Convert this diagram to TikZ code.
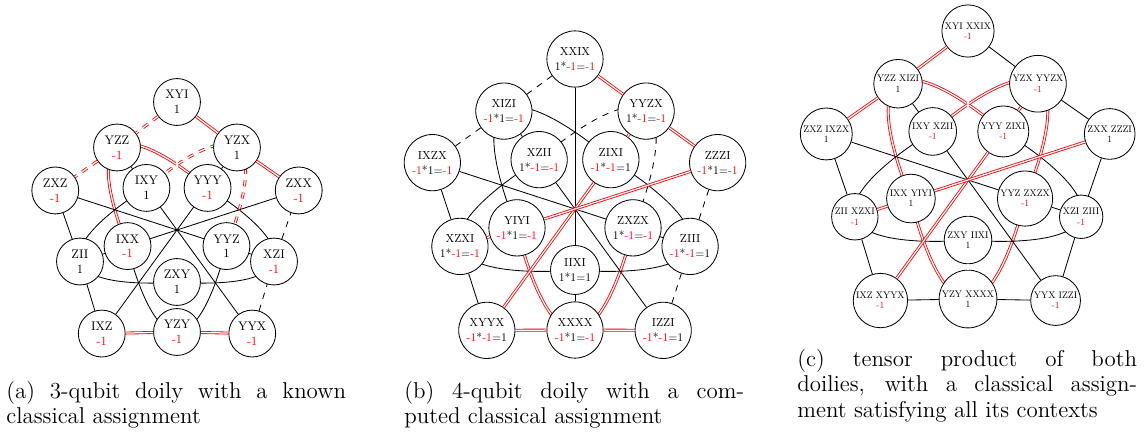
\documentclass[tikz,border=0pt]{standalone}
\usepackage{fontspec}
\usepackage{tikz}
\usetikzlibrary{arrows.meta, shapes, positioning, backgrounds}
\usepackage{xcolor}
\newfontfamily\lmten{lmroman10-regular.otf}
\newcommand{\mone}{\textcolor{red}{-1}}

\begin{document}
\begin{tikzpicture}[
                x=0.48pt, y=0.48pt,
                line join=bevel,
                anode/.style={shape=circle, fill=white, draw=black, minimum size=22.5pt, inner sep=1pt, align=center, font=\lmten\fontsize{6}{7}\selectfont},
                bnode/.style={shape=circle, fill=white, draw=black, minimum size=27pt, inner sep=1pt, align=center, font=\lmten\fontsize{5.6}{7.2}\selectfont},
                cnode/.style={shape=circle, fill=white, draw=black, inner sep=0.6pt, align=center, font=\lmten\fontsize{4.6}{4.9}\selectfont},
                redline/.style={draw=red, double=white, double distance=0.6pt, line width=0.4pt},
                reddash/.style={redline, dashed},
                oval/.style={smooth, tension=1.1},
                subcaption/.style={anchor=base west, text width=163pt, align=justify, inner sep=0pt, font=\fontsize{11}{12.3}\selectfont}
                ]
                \useasboundingbox (0,0) rectangle (1147,435);

                %% 3-qubit doily
                \begin{scope}[shift={(177,205)}]
                \node[anode] (aXYI) at (90:128) {XYI\\1};
                \node[anode] (aYZZ) at (126:102) {YZZ\\\mone};
                \node[anode] (aZXZ) at (162:128) {ZXZ\\\mone};
                \node[anode] (aZII) at (198:102) {ZII\\1};
                \node[anode] (aIXZ) at (234:128) {IXZ\\\mone};
                \node[anode] (aYZY) at (270:102) {YZY\\\mone};
                \node[anode] (aYYX) at (306:128) {YYX\\\mone};
                \node[anode] (aXZI) at (342:102) {XZI\\\mone};
                \node[anode] (aZXX) at (18:128) {ZXX\\\mone};
                \node[anode] (aYZX) at (54:102) {YZX\\1};
                \node[anode] (aIXY) at (126:52) {IXY\\1};
                \node[anode] (aYYY) at (54:52) {YYY\\\mone};
                \node[anode] (aIXX) at (198:52) {IXX\\\mone};
                \node[anode] (aYYZ) at (342:52) {YYZ\\1};
                \node[anode] (aZXY) at (270:52) {ZXY\\1};
                \end{scope}

                % outer pentagon
                \draw[reddash] (aXYI) -- (aYZZ) -- (aZXZ);
                \draw (aZXZ) -- (aZII) -- (aIXZ);
                \draw[redline] (aIXZ) -- (aYZY) -- (aYYX);
                \draw[dashed] (aYYX) -- (aXZI) -- (aZXX);
                \draw[redline] (aZXX) -- (aYZX) -- (aXYI);
                % through the centre
                \draw[redline] (aXYI) -- (aZXY) -- (aYZY);
                \draw (aZXZ) -- (aYYZ) -- (aXZI);
                \draw (aIXZ) -- (aYYY) -- (aYZX);
                \draw (aYYX) -- (aIXY) -- (aYZZ);
                \draw (aZXX) -- (aIXX) -- (aZII);
                % curves
                \begin{scope}[on background layer]
                \draw[redline] plot[oval] coordinates {(aYYY.center) (aYZZ.center) (aIXX.center)};
                \draw plot[oval] coordinates {(aIXY.center) (aZII.center) (aZXY.center)};
                \draw plot[oval] coordinates {(aIXX.center) (aYZY.center) (aYYZ.center)};
                \draw plot[oval] coordinates {(aZXY.center) (aXZI.center) (aYYY.center)};
                \draw[reddash] plot[oval] coordinates {(aYYZ.center) (aYZX.center) (aIXY.center)};
                \end{scope}

                %% 4-qubit doily
                \begin{scope}[shift={(575,226)}]
                \node[bnode] (bXXIX) at (90:150) {XXIX\\1*\mone=\mone};
                \node[bnode] (bXIZI) at (126:121) {XIZI\\\mone*1=\mone};
                \node[bnode] (bIXZX) at (162:150) {IXZX\\\mone*1=\mone};
                \node[bnode] (bXZXI) at (198:121) {XZXI\\1*\mone=\mone};
                \node[bnode] (bXYYX) at (234:150) {XYYX\\\mone*\mone=1};
                \node[bnode] (bXXXX) at (270:121) {XXXX\\\mone*1=\mone};
                \node[bnode] (bIZZI) at (306:150) {IZZI\\\mone*\mone=1};
                \node[bnode] (bZIII) at (342:121) {ZIII\\\mone*\mone=1};
                \node[bnode] (bZZZI) at (18:150) {ZZZI\\\mone*1=\mone};
                \node[bnode] (bYYZX) at (54:121) {YYZX\\1*\mone=\mone};
                \node[bnode] (bXZII) at (126:61) {XZII\\1*\mone=\mone};
                \node[bnode] (bZIXI) at (54:61) {ZIXI\\\mone*\mone=1};
                \node[bnode] (bYIYI) at (198:61) {YIYI\\\mone*1=\mone};
                \node[bnode] (bZXZX) at (342:61) {ZXZX\\1*\mone=\mone};
                \node[bnode, minimum size=23.5pt] (bIIXI) at (270:61) {IIXI\\1*1=1};
                \end{scope}

                % outer pentagon
                \draw[dashed] (bXXIX) -- (bXIZI) -- (bIXZX);
                \draw (bIXZX) -- (bXZXI) -- (bXYYX);
                \draw[redline] (bXYYX) -- (bXXXX) -- (bIZZI);
                \draw[dashed] (bIZZI) -- (bZIII) -- (bZZZI);
                \draw[redline] (bZZZI) -- (bYYZX) -- (bXXIX);
                % through the centre
                \draw (bXXIX) -- (bIIXI) -- (bXXXX);
                \draw (bIXZX) -- (bZXZX) -- (bZIII);
                \draw[redline] (bXYYX) -- (bZIXI) -- (bYYZX);
                \draw (bIZZI) -- (bXZII) -- (bXIZI);
                \draw[redline] (bZZZI) -- (bYIYI) -- (bXZXI);
                % curves
                \begin{scope}[on background layer]
                \draw plot[oval] coordinates {(bZIXI.center) (bXIZI.center) (bYIYI.center)};
                \draw plot[oval] coordinates {(bXZII.center) (bXZXI.center) (bIIXI.center)};
                \draw[redline] plot[oval] coordinates {(bYIYI.center) (bXXXX.center) (bZXZX.center)};
                \draw plot[oval] coordinates {(bIIXI.center) (bZIII.center) (bZIXI.center)};
                \draw[dashed] plot[oval] coordinates {(bZXZX.center) (bYYZX.center) (bXZII.center)};
                \end{scope}

                %% tensor product
                \begin{scope}[shift={(968,255)}]
                \node[cnode] (cXYI) at (90:149) {XYI XXIX\\\mone};
                \node[cnode] (cYZZ) at (126:119) {YZZ XIZI\\1};
                \node[cnode] (cZXZ) at (162:149) {ZXZ IXZX\\1};
                \node[cnode] (cZII) at (198:119) {ZII XZXI\\\mone};
                \node[cnode] (cIXZ) at (234:149) {IXZ XYYX\\\mone};
                \node[cnode] (cYZY) at (270:119) {YZY XXXX\\1};
                \node[cnode] (cYYX) at (306:149) {YYX IZZI\\\mone};
                \node[cnode] (cXZI) at (342:119) {XZI ZIII\\\mone};
                \node[cnode] (cZXX) at (18:149) {ZXX ZZZI\\1};
                \node[cnode] (cYZX) at (54:119) {YZX YYZX\\\mone};
                \node[cnode] (cIXY) at (126:60) {IXY XZII\\\mone};
                \node[cnode] (cYYY) at (54:60) {YYY ZIXI\\\mone};
                \node[cnode] (cIXX) at (198:60) {IXX YIYI\\1};
                \node[cnode] (cYYZ) at (342:60) {YYZ ZXZX\\\mone};
                \node[cnode] (cZXY) at (270:60) {ZXY IIXI\\1};
                \end{scope}

                % outer pentagon
                \draw[redline] (cXYI) -- (cYZZ) -- (cZXZ);
                \draw (cZXZ) -- (cZII) -- (cIXZ);
                \draw (cIXZ) -- (cYZY) -- (cYYX);
                \draw (cYYX) -- (cXZI) -- (cZXX);
                \draw (cZXX) -- (cYZX) -- (cXYI);
                % through the centre
                \draw[redline] (cXYI) -- (cZXY) -- (cYZY);
                \draw (cZXZ) -- (cYYZ) -- (cXZI);
                \draw[redline] (cIXZ) -- (cYYY) -- (cYZX);
                \draw (cYYX) -- (cIXY) -- (cYZZ);
                \draw[redline] (cZXX) -- (cIXX) -- (cZII);
                % curves
                \begin{scope}[on background layer]
                \draw[redline] plot[oval] coordinates {(cYYY.center) (cYZZ.center) (cIXX.center)};
                \draw plot[oval] coordinates {(cIXY.center) (cZII.center) (cZXY.center)};
                \draw[redline] plot[oval] coordinates {(cIXX.center) (cYZY.center) (cYYZ.center)};
                \draw plot[oval] coordinates {(cZXY.center) (cXZI.center) (cYYY.center)};
                \draw[redline] plot[oval] coordinates {(cYYZ.center) (cYZX.center) (cIXY.center)};
                \end{scope}

                %% Captions
                \node[subcaption] (capa) at (6,37) {(a) 3-qubit doily with a known\linebreak classical assignment};
                \node[subcaption] (capb) at (404,37) {(b) 4-qubit doily with a com-\linebreak puted classical assignment};
                \node[subcaption] (capc) at (797,69) {(c) tensor product of both\linebreak doilies, with a classical assign-\linebreak ment satisfying all its contexts};
\end{tikzpicture}
\end{document}
